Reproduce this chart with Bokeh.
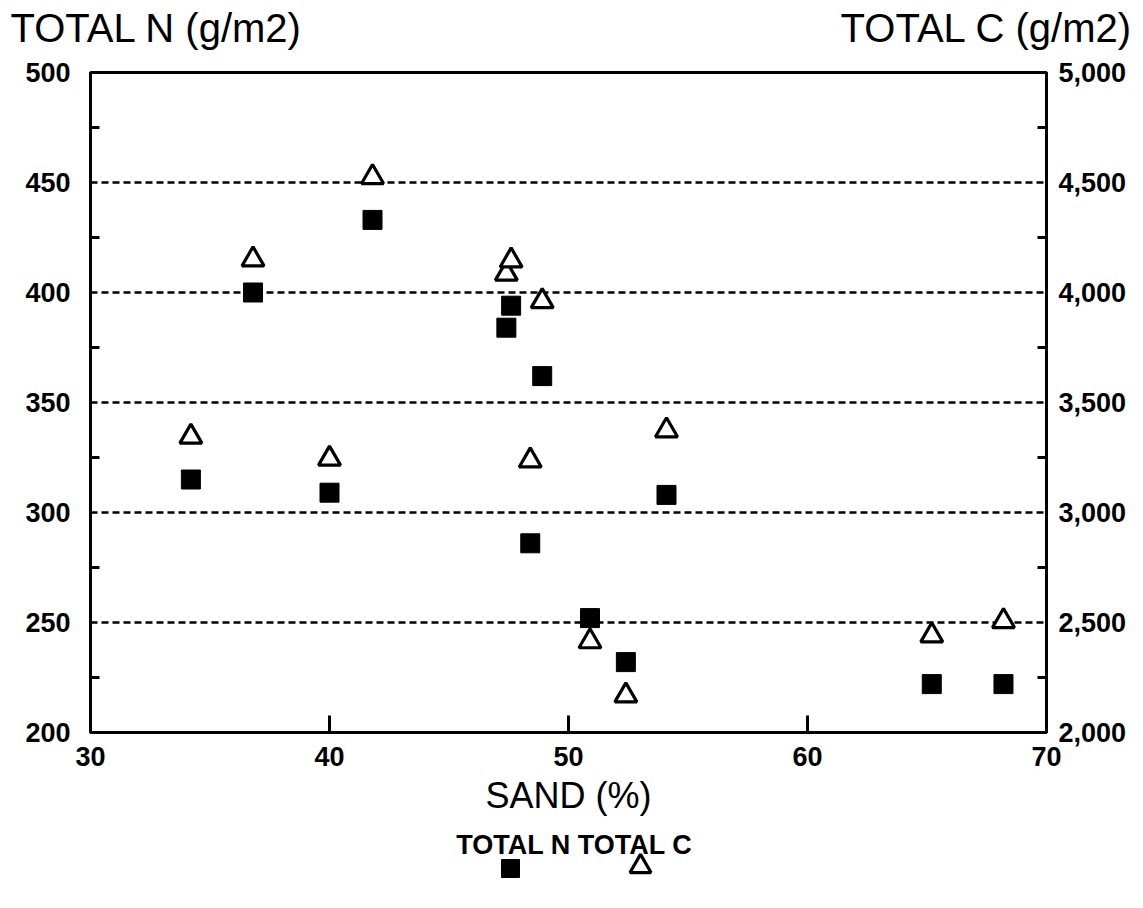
from bokeh.plotting import figure
from bokeh.models import (Range1d, LinearAxis, FixedTicker, NumeralTickFormatter, Label)
from bokeh.layouts import column
from bokeh.embed import file_html
from bokeh.resources import INLINE

# ---- data ----
sand = [34.2, 36.8, 40.0, 41.8, 47.4, 47.6, 48.4, 48.9, 50.9, 52.4, 54.1, 65.2, 68.2]
total_n = [315, 400, 309, 433, 384, 394, 286, 362, 252, 232, 308, 222, 222]
total_c = [3344, 4150, 3244, 4524, 4085, 4145, 3236, 3960, 2414, 2168, 3373, 2441, 2506]

n_ticks = [200, 250, 300, 350, 400, 450, 500]
n_minor = [225, 275, 325, 375, 425, 475]
c_ticks = [2000, 2500, 3000, 3500, 4000, 4500, 5000]
c_minor = [2250, 2750, 3250, 3750, 4250, 4750]
x_ticks = [30, 40, 50, 60, 70]
grid_ticks = [250, 300, 350, 400, 450]

left_title = "TOTAL N (g/m2)"
right_title = "TOTAL C (g/m2)"
x_title = "SAND (%)"
legend_text = "TOTAL N TOTAL C"

FONT = "Liberation Sans"
W = 1143
HEAD_H = 54
MAIN_H = 773
FOOT_H = 908 - HEAD_H - MAIN_H


def blank(height):
    f = figure(width=W, height=height, output_backend="svg", toolbar_location=None,
               x_range=Range1d(0, W), y_range=Range1d(height, 0),
               min_border=0, x_axis_location=None, y_axis_location=None,
               frame_align=False)
    f.outline_line_color = None
    f.xgrid.visible = False
    f.ygrid.visible = False
    f.background_fill_color = "white"
    f.border_fill_color = "white"
    return f


# ---- header with the two axis titles ----
head = blank(HEAD_H)
head.add_layout(Label(x=10, y=27, text=left_title, text_font=FONT,
                      text_font_size="40px", text_align="left", text_baseline="middle",
                      text_color="black"))
head.add_layout(Label(x=1132, y=27, text=right_title, text_font=FONT,
                      text_font_size="40px", text_align="right", text_baseline="middle",
                      text_color="black"))

# ---- main chart ----
p = figure(width=W, height=MAIN_H, output_backend="svg", toolbar_location=None,
           x_range=Range1d(30, 70), y_range=Range1d(200, 500),
           min_border_left=90, min_border_right=97, min_border_top=72 - HEAD_H,
           min_border_bottom=MAIN_H - (732 - HEAD_H),
           x_axis_location=None, y_axis_location=None, frame_align=False)
p.extra_y_ranges = {"c": Range1d(2000, 5000)}
p.outline_line_color = "black"
p.outline_line_width = 3
p.background_fill_color = "white"
p.border_fill_color = "white"


def style_axis(ax, tick_in, minor_in, standoff):
    ax.axis_line_width = 3
    ax.axis_line_color = "black"
    ax.major_tick_line_width = 3
    ax.major_tick_line_color = "black"
    ax.major_tick_in = tick_in
    ax.major_tick_out = 0
    ax.minor_tick_line_width = 3
    ax.minor_tick_line_color = "black"
    ax.minor_tick_in = minor_in
    ax.minor_tick_out = 0
    ax.major_label_text_font = FONT
    ax.major_label_text_font_style = "bold"
    ax.major_label_text_font_size = "27px"
    ax.major_label_text_color = "black"
    ax.major_label_standoff = standoff


left = LinearAxis(ticker=FixedTicker(ticks=n_ticks, minor_ticks=n_minor))
style_axis(left, 0, 9, 20)
p.add_layout(left, "left")

right = LinearAxis(y_range_name="c", ticker=FixedTicker(ticks=c_ticks, minor_ticks=c_minor),
                   formatter=NumeralTickFormatter(format="0,0"))
style_axis(right, 0, 9, 12)
p.add_layout(right, "right")

bottom = LinearAxis(ticker=FixedTicker(ticks=x_ticks, minor_ticks=[]), axis_label=x_title)
style_axis(bottom, 17, 0, 14)
bottom.axis_label_text_font = FONT
bottom.axis_label_text_font_size = "36px"
bottom.axis_label_text_font_style = "normal"
bottom.axis_label_text_color = "black"
bottom.axis_label_standoff = 6
p.add_layout(bottom, "below")

p.xgrid.visible = False
p.ygrid.ticker = FixedTicker(ticks=grid_ticks)
p.ygrid.grid_line_color = "black"
p.ygrid.grid_line_width = 2.5
p.ygrid.grid_line_dash = "7 4"

p.scatter(sand, total_n, marker="square", size=19, fill_color="black", line_color="black")
p.scatter(sand, total_c, y_range_name="c", marker="triangle", size=22,
          fill_color="white", line_color="black", line_width=3.2)

# ---- footer: legend ----
foot = blank(FOOT_H)
top0 = HEAD_H + MAIN_H
foot.add_layout(Label(x=574, y=844 - top0, text=legend_text, text_font=FONT,
                      text_font_size="27px", text_font_style="bold", text_align="center",
                      text_baseline="middle", text_color="black"))
foot.scatter([510], [868 - top0], marker="square", size=18, fill_color="black",
             line_color="black")
foot.scatter([640], [866 - top0], marker="triangle", size=21, fill_color="white",
             line_color="black", line_width=3.2)

layout = column(head, p, foot, spacing=0)
open("out.html", "w").write(file_html(layout, INLINE))
